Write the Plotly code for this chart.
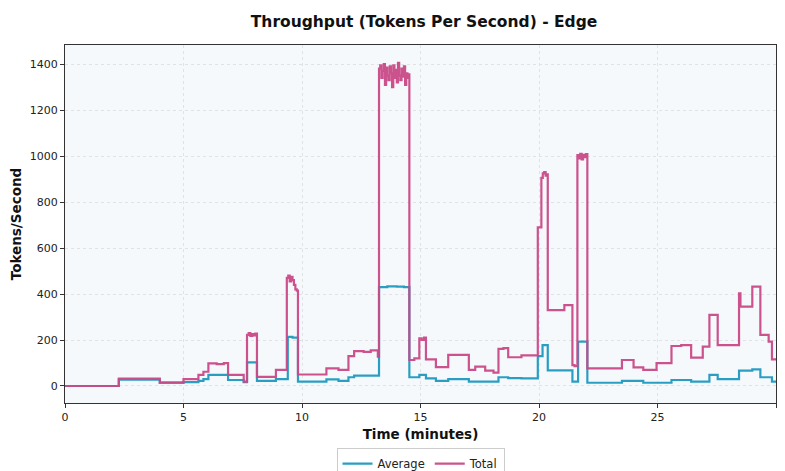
import plotly.graph_objects as go

# ---- data (minutes, tokens/second), step series ----
avg_time = [0, 2.27, 4.0, 5.0, 5.63, 5.84, 6.05, 6.88, 7.54, 7.68, 8.1, 8.9,
            9.4, 9.6, 9.83, 11.03, 11.54, 11.96, 12.2, 13.25, 13.6, 14.0, 14.3,
            14.53, 14.95, 15.23, 15.65, 16.17, 17.04, 18.29, 18.7, 19.26,
            19.95, 20.15, 20.37, 21.41, 21.65, 22.04, 23.5, 24.4, 25.59, 26.42,
            27.19, 27.54, 28.44, 29.0, 29.34, 29.83, 30.0]
avg_vals = [0, 28, 15, 17, 22, 30, 48, 26, 17, 103, 22, 30,
            214, 210, 19, 29, 22, 38, 45, 430, 433, 432, 430,
            38, 48, 33, 22, 30, 19, 38, 34, 33,
            130, 178, 68, 19, 193, 14, 22, 14, 26, 19,
            48, 30, 67, 72, 38, 19, 19]

total_time = [0, 2.27, 4.0, 5.0, 5.63, 5.84, 6.05, 6.4, 6.7, 6.88, 7.54,
              7.68, 7.75, 7.82, 7.9, 7.97, 8.03, 8.1, 8.9,
              9.36, 9.42, 9.48, 9.54, 9.6, 9.66, 9.72, 9.78, 9.83,
              11.03, 11.54, 11.96, 12.2, 12.6, 12.9, 13.2,
              13.25, 13.3, 13.35, 13.4, 13.45, 13.5, 13.55, 13.6, 13.65, 13.7,
              13.75, 13.8, 13.85, 13.9, 13.95, 14.0, 14.05, 14.1, 14.15, 14.2,
              14.25, 14.3, 14.35, 14.4, 14.45, 14.5,
              14.53, 14.74, 14.95, 15.05, 15.15, 15.23, 15.65, 16.17, 17.04,
              17.31, 17.73, 18.08, 18.29, 18.5, 18.7, 19.26,
              19.95, 20.1, 20.16, 20.22, 20.28, 20.33, 20.37, 21.07, 21.41, 21.5,
              21.62, 21.68, 21.74, 21.8, 21.86, 21.92, 21.98, 22.04,
              23.5, 23.99, 24.4, 24.96, 25.59, 26.0, 26.42, 26.91, 27.19, 27.54,
              28.44, 28.5, 29.0, 29.34, 29.69, 29.83, 30.0]
total_vals = [0, 32, 15, 30, 48, 62, 98, 95, 99, 48, 19,
              222, 230, 218, 226, 220, 228, 40, 70,
              470, 480, 455, 475, 460, 440, 420, 415, 50,
              77, 70, 130, 152, 148, 155, 128,
              1380, 1395, 1340, 1370, 1400, 1310, 1385, 1350, 1330, 1390,
              1360, 1300, 1395, 1340, 1375, 1320, 1405, 1350, 1330, 1380,
              1345, 1390, 1310, 1360, 1340, 1355,
              113, 120, 207, 200, 210, 116, 82, 135, 70,
              84, 67, 58, 161, 165, 125, 133,
              690, 905, 925, 930, 915, 920, 330, 352, 91, 86,
              1004, 990, 1010, 985, 1005, 995, 1008, 77,
              113, 81, 70, 99, 174, 178, 123, 171, 309, 178,
              403, 345, 432, 222, 193, 116, 116]

x_ticks = [0, 5, 10, 15, 20, 25, 30]
y_ticks = [0, 200, 400, 600, 800, 1000, 1200, 1400]

BLUE = "#2a9ec2"
PINK = "#c94a87"

fig = go.Figure()
fig.add_trace(go.Scatter(x=avg_time, y=avg_vals, mode="lines", name="Average",
                         line=dict(color=BLUE, width=2.2, shape="hv")))
fig.add_trace(go.Scatter(x=total_time, y=total_vals, mode="lines", name="Total",
                         line=dict(color=PINK, width=2.2, shape="hv"), opacity=0.95))

axis_common = dict(showline=True, linecolor="#333333", linewidth=1.2, mirror=True,
                   ticks="outside", ticklen=4, tickcolor="#333333",
                   showgrid=True, gridcolor="#e2e2e2", griddash="3px,3px", gridwidth=0.8,
                   zeroline=False, automargin=False,
                   tickfont=dict(family="DejaVu Sans", size=11, color="#222222"))

# page body has an 8px default margin; figure sized/offset to compensate
fig.update_layout(
    width=769, height=463,
    margin=dict(l=57, r=1, t=37, b=68, autoexpand=False),
    paper_bgcolor="white",
    plot_bgcolor="#f6f9fc",
    title=dict(text="<b>Throughput (Tokens Per Second) - Edge</b>",
               x=0.541, xanchor="center", y=0.970, yanchor="middle",
               font=dict(family="DejaVu Sans", size=15.5, color="#111111")),
    xaxis=dict(range=[0, 30], tickvals=x_ticks,
               title=dict(text="<b>Time (minutes)</b>", standoff=6,
                          font=dict(family="DejaVu Sans", size=13.5, color="#111111")),
               **axis_common),
    yaxis=dict(range=[-74, 1483], tickvals=y_ticks,
               title=dict(text="<b>Tokens/Second</b>", standoff=10,
                          font=dict(family="DejaVu Sans", size=13.5, color="#111111")),
               **axis_common),
    legend=dict(orientation="h", x=0.5, xanchor="center", y=-0.126, yanchor="top",
                bgcolor="white", bordercolor="#cccccc", borderwidth=1,
                font=dict(family="DejaVu Sans", size=11.5, color="#222222"),
                itemwidth=30, tracegroupgap=0),
    showlegend=True,
)

fig.write_html("out.html")
